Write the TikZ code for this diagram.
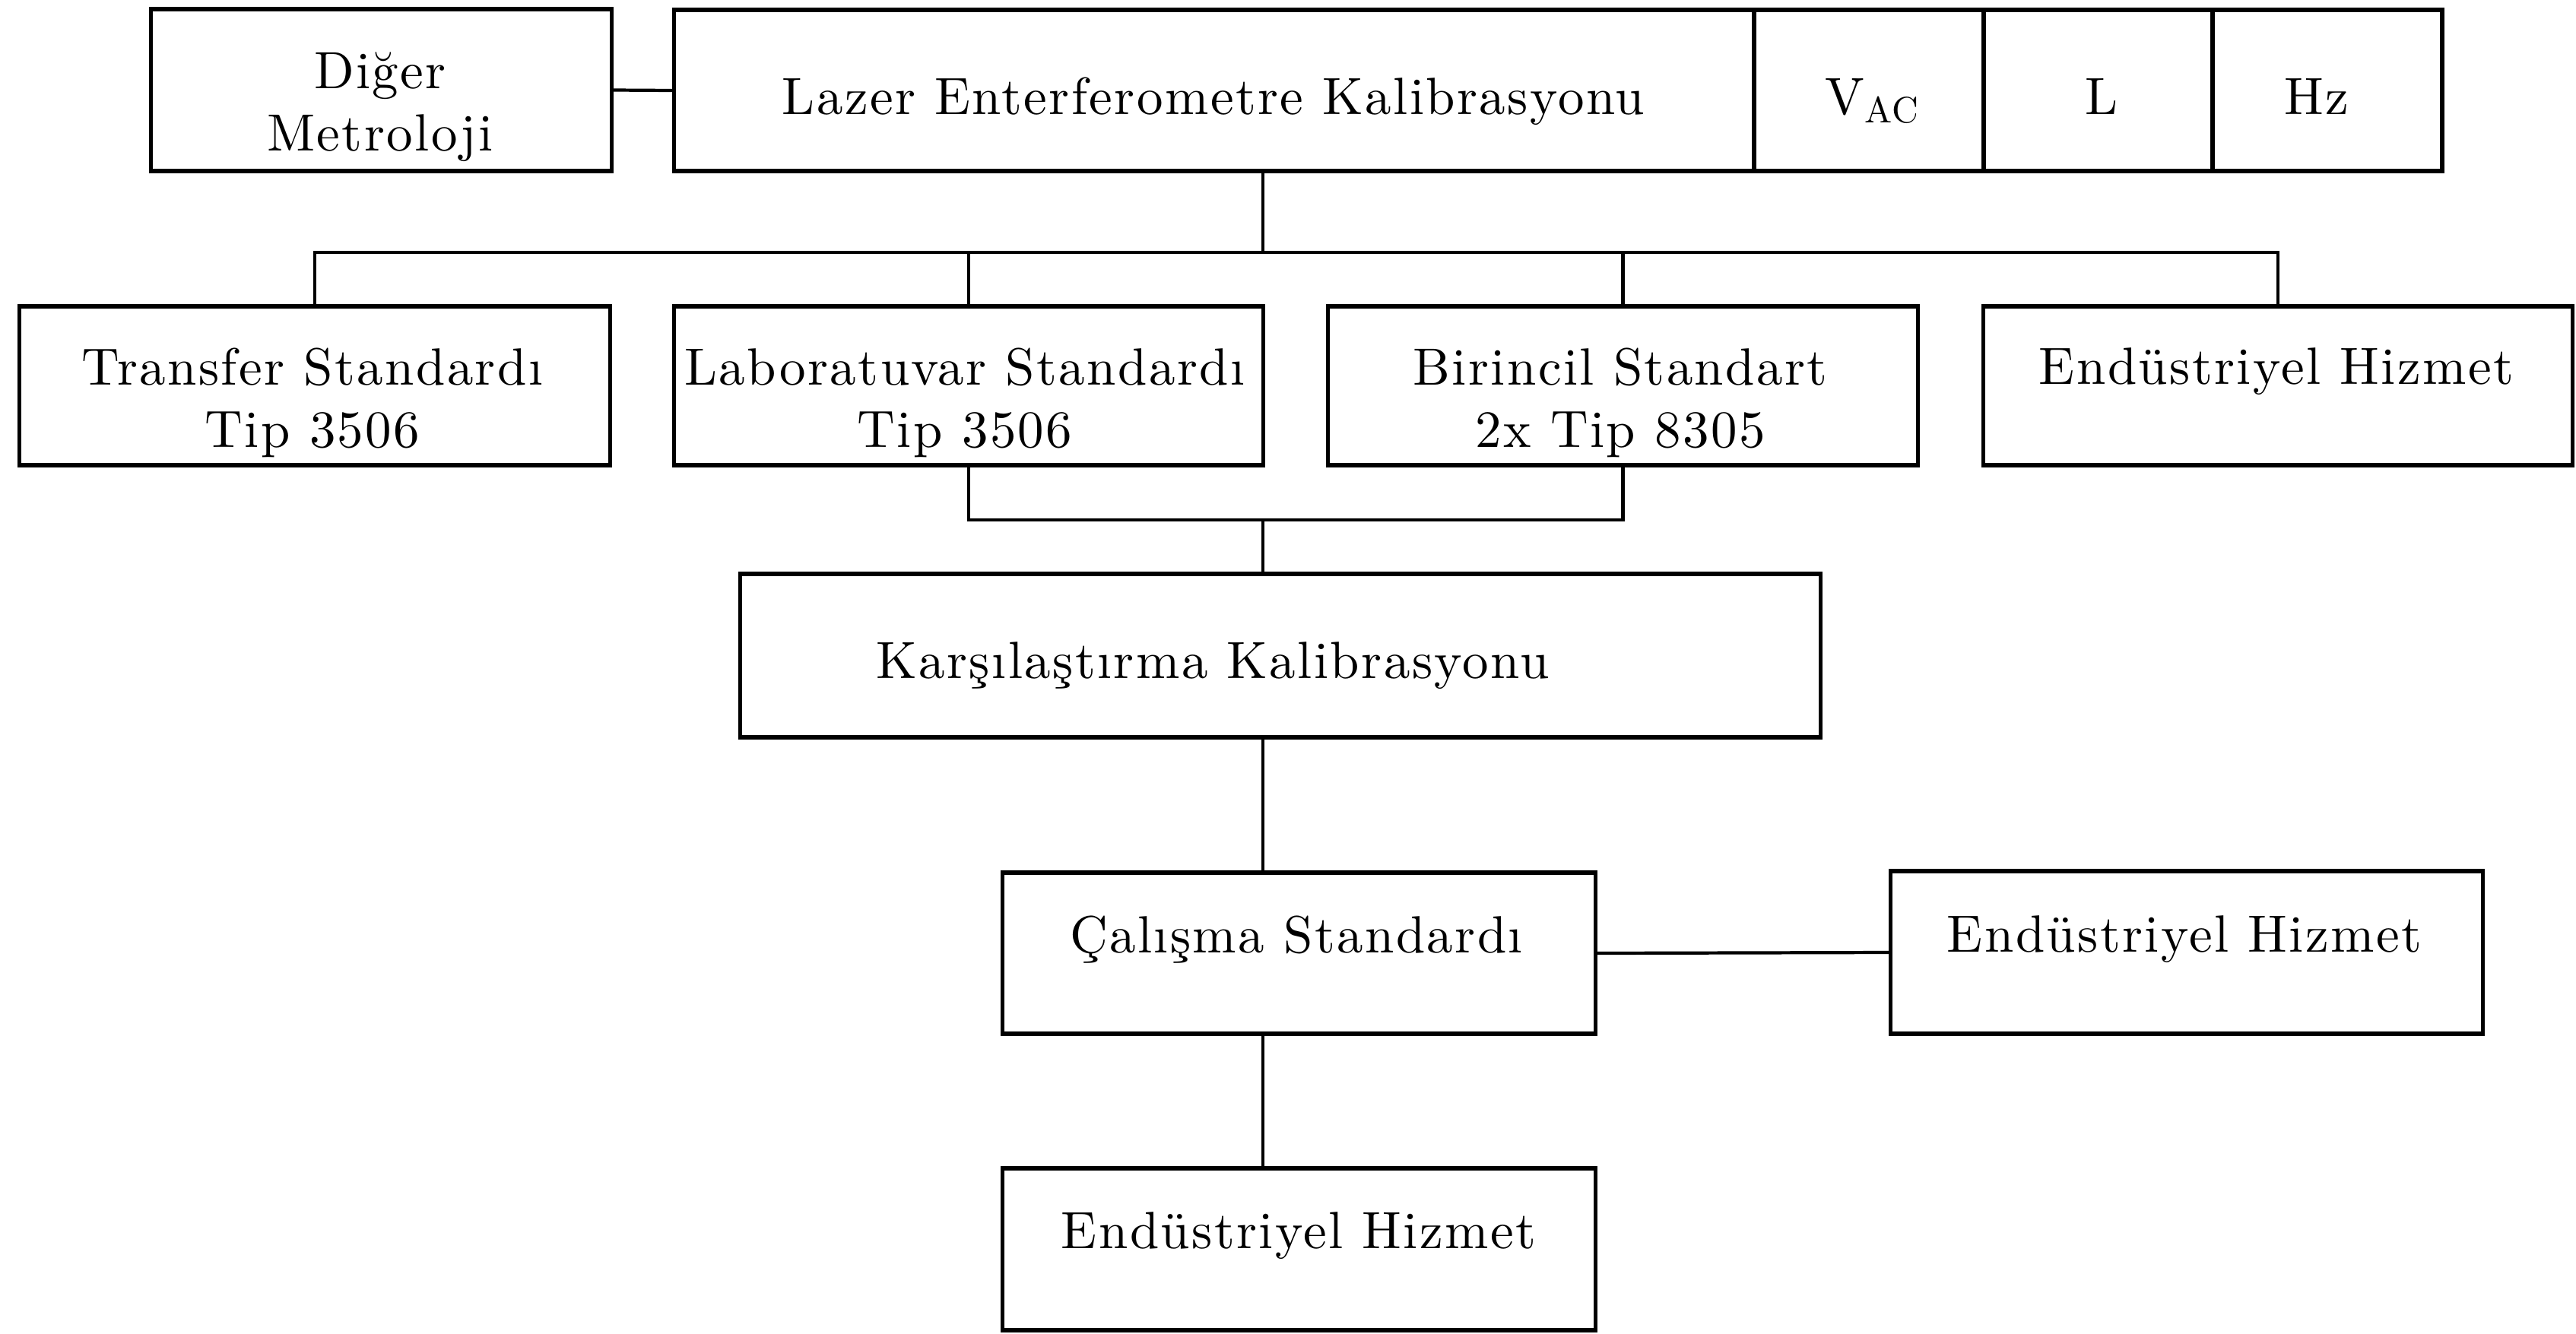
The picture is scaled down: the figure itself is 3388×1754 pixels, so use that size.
\documentclass[tikz,border=0pt]{standalone}
\usepackage{fontspec}
\setmainfont{lmroman10-regular.otf}[LetterSpace=3.5]
\begin{document}
\begin{tikzpicture}[x=0.01cm,y=-0.01cm,
  box/.style={draw=black, line width=1.5pt, rectangle, inner sep=0pt, fill=white},
  txt/.style={anchor=north, inner sep=0pt, align=center, font=\fontsize{19.6}{23.3}\selectfont},
  conn/.style={draw=black, line width=1.2pt}]
\useasboundingbox[fill=white] (0,0) rectangle (3388,1754);

% top row
\node[box, minimum width=6.05cm, minimum height=2.13cm] (dig) at (501.5,118.5) {};
\node[box, minimum width=14.20cm, minimum height=2.12cm] (laz) at (1597,119) {};
\node[box, minimum width=3.02cm, minimum height=2.12cm] (vac) at (2458,119) {};
\node[box, minimum width=3.01cm, minimum height=2.12cm] (lbox) at (2759.5,119) {};
\node[box, minimum width=3.02cm, minimum height=2.12cm] (hz) at (3061,119) {};

% second row
\node[box, minimum width=7.76cm, minimum height=2.09cm] (tr) at (414,507.5) {};
\node[box, minimum width=7.74cm, minimum height=2.09cm] (lab) at (1274,507.5) {};
\node[box, minimum width=7.75cm, minimum height=2.09cm] (bir) at (2134.5,507.5) {};
\node[box, minimum width=7.74cm, minimum height=2.09cm] (endA) at (2996,507.5) {};

% lower boxes
\node[box, minimum width=14.20cm, minimum height=2.15cm] (kar) at (1684,862.5) {};
\node[box, minimum width=7.79cm, minimum height=2.12cm] (cal) at (1708.5,1254) {};
\node[box, minimum width=7.78cm, minimum height=2.14cm] (endB) at (2876,1253) {};
\node[box, minimum width=7.79cm, minimum height=2.13cm] (endC) at (1708.5,1643.5) {};

% texts
\node[txt] (dig-t) at (500,68) {Diğer\\Metroloji};
\node[txt] (laz-t) at (1596,101) {Lazer Enterferometre Kalibrasyonu};
\node[txt] (vac-t) at (2463,103) {V\textsubscript{AC}};
\node[txt] (l-t) at (2764,103) {L};
\node[txt] (hz-t) at (3047,103) {Hz};
\node[txt] (tr-t) at (411,457) {Transfer Standardı\\Tip 3506};
\node[txt] (lab-t) at (1269,457) {Laboratuvar Standardı\\Tip 3506};
\node[txt] (bir-t) at (2131,457) {Birincil Standart\\2x Tip 8305};
\node[txt] (endA-t) at (2994,457) {Endüstriyel Hizmet};
\node[txt] (kar-t) at (1595,844) {Karşılaştırma Kalibrasyonu};
\node[txt] (cal-t) at (1705,1204) {Çalışma Standardı};
\node[txt] (endB-t) at (2873,1204) {Endüstriyel Hizmet};
\node[txt] (endC-t) at (1708,1594) {Endüstriyel Hizmet};

% connectors
\coordinate (bus) at (1661,332);
\coordinate (join) at (1661,684);
\draw[conn] (dig.east) -- (laz.west);
\draw[conn] (laz.south -| bus) -- (bus);
\draw[conn] (tr.north) |- (endA.north |- bus) -- (endA.north);
\draw[conn] (lab.north) -- (lab.north |- bus);
\draw[conn] (bir.north) -- (bir.north |- bus);
\draw[conn] (lab.south) |- (bir.south |- join) -- (bir.south);
\draw[conn] (join) -- (join |- kar.north);
\draw[conn] (kar.south -| join) -- (cal.north -| join);
\draw[conn] (cal.east) -- (endB.west);
\draw[conn] (cal.south -| join) -- (endC.north -| join);
\end{tikzpicture}
\end{document}
